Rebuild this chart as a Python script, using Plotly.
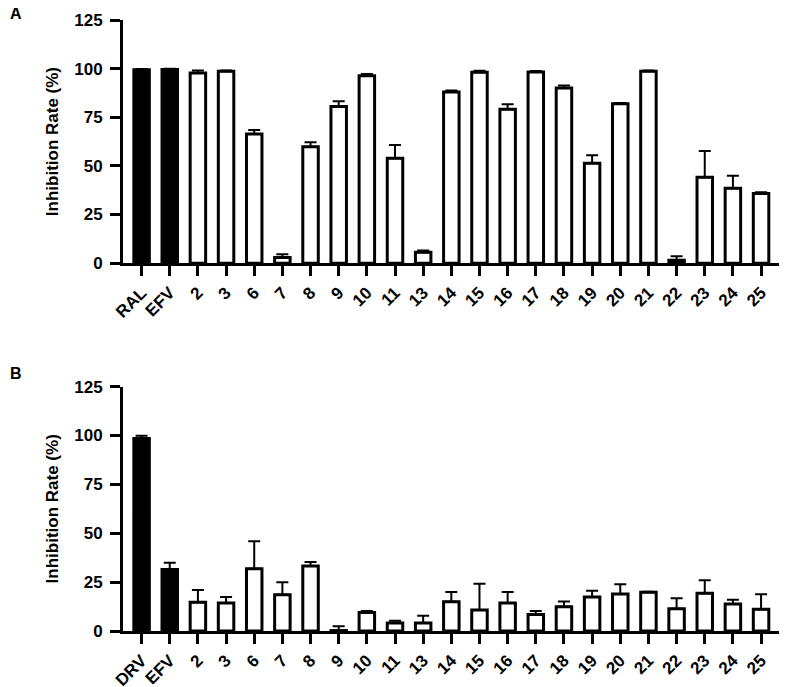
import plotly.graph_objects as go

# Panel A data
cats_a = ["RAL", "EFV", "2", "3", "6", "7", "8", "9", "10", "11", "13", "14", "15",
          "16", "17", "18", "19", "20", "21", "22", "23", "24", "25"]
vals_a = [99.4, 99.5, 97.8, 98.6, 66.4, 2.9, 59.9, 80.5, 96.4, 53.9, 5.6, 88.0, 98.1,
          79.1, 98.3, 90.1, 51.4, 82.0, 98.6, 1.5, 44.2, 38.5, 35.8]
err_a = [0.4, 0.4, 1.2, 0.5, 2.0, 1.7, 2.2, 2.7, 0.8, 6.8, 0.9, 0.8, 0.8,
         2.6, 0.5, 1.2, 4.1, 0.4, 0.5, 2.1, 13.5, 6.4, 0.7]

# Panel B data
cats_b = ["DRV", "EFV", "2", "3", "6", "7", "8", "9", "10", "11", "13", "14", "15",
          "16", "17", "18", "19", "20", "21", "22", "23", "24", "25"]
vals_b = [98.4, 31.5, 14.7, 14.3, 31.9, 18.6, 33.3, 0.2, 9.4, 4.1, 4.1, 15.0, 10.7,
          14.3, 8.5, 12.4, 17.4, 18.9, 19.8, 11.4, 19.3, 13.8, 11.1]
err_b = [1.4, 3.4, 6.3, 3.1, 14.0, 6.3, 2.0, 2.2, 0.8, 1.2, 3.7, 5.0, 13.5,
         5.6, 1.7, 2.7, 3.2, 5.0, 0.3, 5.3, 6.6, 2.2, 7.7]

n_controls = 2
FONT = "Arial, Liberation Sans, sans-serif"

fig = go.Figure()

def add_panel(cats, vals, errs, xa, ya):
    fills = ["black"] * n_controls + ["white"] * (len(cats) - n_controls)
    fig.add_trace(go.Bar(
        x=cats, y=vals, xaxis=xa, yaxis=ya, width=0.55,
        marker=dict(color=fills, line=dict(color="black", width=3)),
        error_y=dict(type="data", array=errs, arrayminus=[0] * len(errs),
                     symmetric=False, color="black", thickness=2, width=6),
        showlegend=False,
    ))

add_panel(cats_a, vals_a, err_a, "x", "y")
add_panel(cats_b, vals_b, err_b, "x2", "y2")

xstyle = dict(type="category", range=[-0.66, 22.85], showline=True, linecolor="black",
              linewidth=3, ticks="outside", ticklen=10, tickwidth=3, tickcolor="black",
              tickangle=-45, showgrid=False, zeroline=False, automargin=False,
              tickfont=dict(family=FONT, size=17, color="black", weight="bold"))
ystyle = dict(range=[0, 125], tickvals=[0, 25, 50, 75, 100, 125], showline=True,
              linecolor="black", linewidth=3, ticks="outside", ticklen=10, tickwidth=3,
              tickcolor="black", showgrid=False, zeroline=False, automargin=False,
              ticklabelstandoff=4,
              tickfont=dict(family=FONT, size=17, color="black", weight="bold"),
              title=dict(text="Inhibition Rate (%)", standoff=12,
                         font=dict(family=FONT, size=17, color="black", weight="bold")))

# page body has an 8px margin, so the figure is sized/offset to compensate
fig.update_layout(
    width=779, height=687,
    margin=dict(l=115, r=2, t=12, b=64),
    plot_bgcolor="white", paper_bgcolor="white",
    xaxis=dict(xstyle, anchor="y"),
    yaxis=dict(ystyle, domain=[0.602, 1.0], anchor="x"),
    xaxis2=dict(xstyle, anchor="y2"),
    yaxis2=dict(ystyle, domain=[0.0, 0.4], anchor="x2"),
    annotations=[
        dict(text="A", x=-0.173, y=1.01, xref="paper", yref="paper", xanchor="left",
             yanchor="middle", showarrow=False,
             font=dict(family=FONT, size=16, color="black", weight="bold")),
        dict(text="B", x=-0.173, y=0.422, xref="paper", yref="paper", xanchor="left",
             yanchor="middle", showarrow=False,
             font=dict(family=FONT, size=16, color="black", weight="bold")),
    ],
)

fig.write_html("out.html")
